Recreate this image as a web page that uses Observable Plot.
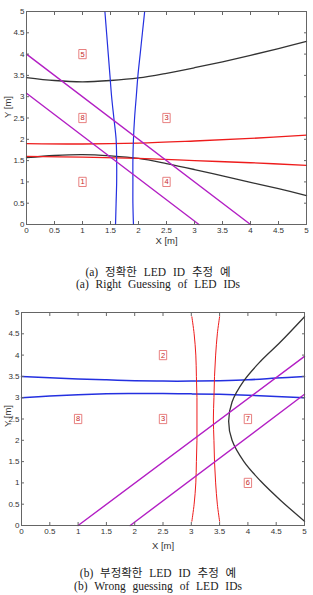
<!DOCTYPE html>
<html>
<head>
<meta charset="utf-8">
<script src="https://cdn.jsdelivr.net/npm/d3@7"></script>
<script src="https://cdn.jsdelivr.net/npm/@observablehq/plot@0.6"></script>
<style>
  html, body { margin: 0; padding: 0; background: #fff; }
  #page { position: relative; width: 313px; height: 595px; overflow: hidden; background: #fff; }
  .chart { position: absolute; left: 0; }
  .cap { position: absolute; left: 0; width: 316px; text-align: center;
         font-family: "Liberation Serif", "Noto Sans CJK KR", serif; font-size: 11.5px;
         word-spacing: 4px; color: #222; line-height: 12px; white-space: nowrap; }
</style>
</head>
<body>
<div id="page">
  <div id="chartA" class="chart" style="top:0px"></div>
  <div class="cap" style="top:266px">(a) 정확한 LED ID 추정 예</div>
  <div class="cap" style="top:277.5px">(a) Right Guessing of LED IDs</div>
  <div id="chartB" class="chart" style="top:300px"></div>
  <div class="cap" style="top:567px">(b) 부정확한 LED ID 추정 예</div>
  <div class="cap" style="top:580px">(b) Wrong guessing of LED IDs</div>
</div>
<script>
// ---------- shared axis ticks ----------
const ticks = [0, 0.5, 1, 1.5, 2, 2.5, 3, 3.5, 4, 4.5, 5];
const xLabel = "X [m]";
const yLabel = "Y [m]";

// ---------- chart (a): right guessing ----------
const aCurveX = [0, 0.5, 1, 1.5, 2, 2.5, 3, 3.5, 4, 4.5, 5];
const aBlackUpper = [3.45, 3.38, 3.35, 3.38, 3.44, 3.55, 3.68, 3.82, 3.97, 4.13, 4.30];
const aBlackLower = [1.57, 1.62, 1.64, 1.61, 1.55, 1.43, 1.29, 1.14, 0.99, 0.84, 0.68];
const aRedX = [0, 1, 2, 3, 4, 5];
const aRedUpper = [1.90, 1.89, 1.91, 1.96, 2.02, 2.10];
const aRedLower = [1.60, 1.58, 1.55, 1.50, 1.45, 1.39];
const aBlueY = [0, 0.5, 1, 1.5, 2, 2.5, 3, 3.5, 4, 4.5, 5];
const aBlueLeft = [1.59, 1.60, 1.61, 1.61, 1.60, 1.56, 1.52, 1.49, 1.46, 1.43, 1.40];
const aBlueRight = [1.91, 1.90, 1.90, 1.90, 1.91, 1.93, 1.96, 1.99, 2.03, 2.07, 2.11];
const aMagenta1X = [0, 4.0];
const aMagenta1Y = [4.0, 0];
const aMagenta2X = [0, 3.08];
const aMagenta2Y = [3.08, 0];
const aLabels = ["5", "8", "3", "1", "4"];
const aLabelX = [1, 1, 2.5, 1, 2.5];
const aLabelY = [4, 2.5, 2.5, 1, 1];

// ---------- chart (b): wrong guessing ----------
const bCurveX = [0, 0.5, 1, 1.5, 2, 2.5, 3, 3.5, 4, 4.5, 5];
const bBlueUpper = [3.50, 3.47, 3.44, 3.42, 3.40, 3.39, 3.39, 3.40, 3.42, 3.46, 3.50];
const bBlueLower = [3.00, 3.04, 3.07, 3.09, 3.10, 3.10, 3.09, 3.08, 3.06, 3.03, 3.00];
const bRedY = [0.1, 0.5, 1, 1.5, 2, 2.5, 3, 3.5, 4, 4.5, 4.9];
const bRedLeft = [3.01, 3.05, 3.08, 3.09, 3.10, 3.10, 3.10, 3.09, 3.08, 3.05, 3.01];
const bRedRight = [3.50, 3.46, 3.43, 3.41, 3.40, 3.39, 3.40, 3.41, 3.43, 3.46, 3.50];
const bBlackY = [0.1, 0.6, 1.05, 1.5, 2.0, 2.45, 2.9, 3.4, 3.85, 4.3, 4.9];
const bBlackX = [5.0, 4.57, 4.22, 3.93, 3.72, 3.66, 3.72, 3.93, 4.22, 4.57, 5.0];
const bMagenta1X = [1.0, 5];
const bMagenta1Y = [0, 3.97];
const bMagenta2X = [1.92, 5];
const bMagenta2Y = [0, 3.08];
const bLabels = ["2", "8", "3", "7", "6"];
const bLabelX = [2.5, 1, 2.5, 4, 4];
const bLabelY = [4, 2.5, 2.5, 2.5, 1];

// ---------- helpers ----------
const COL = { black: "#333333", red: "#ee1c1c", blue: "#2430e0", magenta: "#b31fc4" };
const pts = (xs, ys) => xs.map((x, i) => ({ x, y: ys[i] }));
const fmt = d => String(d);
const boxSymbol = {
  draw(ctx, size) {
    const s = Math.sqrt(size / Math.PI);
    ctx.rect(-s * 0.8, -s, s * 1.6, s * 2);
  }
};

function axes(yLabelDx, yLabelDy, xLabelDy) {
  return [
    Plot.frame({ stroke: "#555", strokeWidth: 0.9 }),
    Plot.axisX(ticks, { anchor: "bottom", tickSize: 0, tickPadding: 3, tickFormat: fmt, label: null }),
    Plot.axisY(ticks, { anchor: "left", tickSize: 0, tickPadding: 2, tickFormat: fmt, label: null }),
    Plot.axisX(ticks, { anchor: "bottom", tickSize: -3, fill: "none", stroke: "#666", label: null }),
    Plot.axisX(ticks, { anchor: "top", tickSize: -3, fill: "none", stroke: "#666", label: null }),
    Plot.axisY(ticks, { anchor: "left", tickSize: -3, fill: "none", stroke: "#666", label: null }),
    Plot.axisY(ticks, { anchor: "right", tickSize: -3, fill: "none", stroke: "#666", label: null }),
    Plot.text([xLabel], { frameAnchor: "bottom", dy: xLabelDy, fontSize: 9.5, fill: "#333" }),
    Plot.text([yLabel], { frameAnchor: "left", dx: yLabelDx, dy: yLabelDy, rotate: -90, fontSize: 9.5, fill: "#333" })
  ];
}

function labelMarks(texts, xs, ys) {
  const data = texts.map((t, i) => ({ t, x: xs[i], y: ys[i] }));
  return [
    Plot.dot(data, { x: "x", y: "y", r: 4.6, symbol: boxSymbol, fill: "white", stroke: "#e57373", strokeWidth: 0.9 }),
    Plot.text(data, { x: "x", y: "y", text: "t", fill: "#c62828", fontSize: 7.5 })
  ];
}

const baseStyle = {
  fontFamily: '"Liberation Sans Narrow", "Arial Narrow", "Liberation Sans", sans-serif',
  fontSize: "8px",
  color: "#333",
  background: "white",
  overflow: "visible"
};

// ---------- draw (a) ----------
const chartA = Plot.plot({
  width: 313, height: 250,
  marginLeft: 26, marginRight: 7, marginTop: 11, marginBottom: 26,
  x: { domain: [0, 5] },
  y: { domain: [0, 5] },
  style: baseStyle,
  marks: [
    Plot.line(pts(aCurveX, aBlackUpper), { x: "x", y: "y", stroke: COL.black, strokeWidth: 1.3, curve: "catmull-rom" }),
    Plot.line(pts(aCurveX, aBlackLower), { x: "x", y: "y", stroke: COL.black, strokeWidth: 1.3, curve: "catmull-rom" }),
    Plot.line(pts(aRedX, aRedUpper), { x: "x", y: "y", stroke: COL.red, strokeWidth: 1.3, curve: "catmull-rom" }),
    Plot.line(pts(aRedX, aRedLower), { x: "x", y: "y", stroke: COL.red, strokeWidth: 1.3, curve: "catmull-rom" }),
    Plot.line(pts(aBlueLeft, aBlueY), { x: "x", y: "y", stroke: COL.blue, strokeWidth: 1.2, curve: "catmull-rom" }),
    Plot.line(pts(aBlueRight, aBlueY), { x: "x", y: "y", stroke: COL.blue, strokeWidth: 1.2, curve: "catmull-rom" }),
    Plot.line(pts(aMagenta1X, aMagenta1Y), { x: "x", y: "y", stroke: COL.magenta, strokeWidth: 1.4 }),
    Plot.line(pts(aMagenta2X, aMagenta2Y), { x: "x", y: "y", stroke: COL.magenta, strokeWidth: 1.4 }),
    ...labelMarks(aLabels, aLabelX, aLabelY),
    ...axes(-19, 0, 19)
  ]
});
document.getElementById("chartA").append(chartA);

// ---------- draw (b) ----------
const chartB = Plot.plot({
  width: 313, height: 260,
  marginLeft: 21, marginRight: 9, marginTop: 12, marginBottom: 35,
  x: { domain: [0, 5] },
  y: { domain: [0, 5] },
  style: baseStyle,
  marks: [
    Plot.line(pts(bCurveX, bBlueUpper), { x: "x", y: "y", stroke: COL.blue, strokeWidth: 1.5, curve: "catmull-rom" }),
    Plot.line(pts(bCurveX, bBlueLower), { x: "x", y: "y", stroke: COL.blue, strokeWidth: 1.5, curve: "catmull-rom" }),
    Plot.line(pts(bRedLeft, bRedY), { x: "x", y: "y", stroke: COL.red, strokeWidth: 1.0, curve: "catmull-rom" }),
    Plot.line(pts(bRedRight, bRedY), { x: "x", y: "y", stroke: COL.red, strokeWidth: 1.0, curve: "catmull-rom" }),
    Plot.line(pts(bBlackX, bBlackY), { x: "x", y: "y", stroke: COL.black, strokeWidth: 1.3, curve: "catmull-rom" }),
    Plot.line(pts(bMagenta1X, bMagenta1Y), { x: "x", y: "y", stroke: COL.magenta, strokeWidth: 1.4 }),
    Plot.line(pts(bMagenta2X, bMagenta2Y), { x: "x", y: "y", stroke: COL.magenta, strokeWidth: 1.4 }),
    ...labelMarks(bLabels, bLabelX, bLabelY),
    ...axes(-14, 8, 23)
  ]
});
document.getElementById("chartB").append(chartB);
</script>
</body>
</html>
